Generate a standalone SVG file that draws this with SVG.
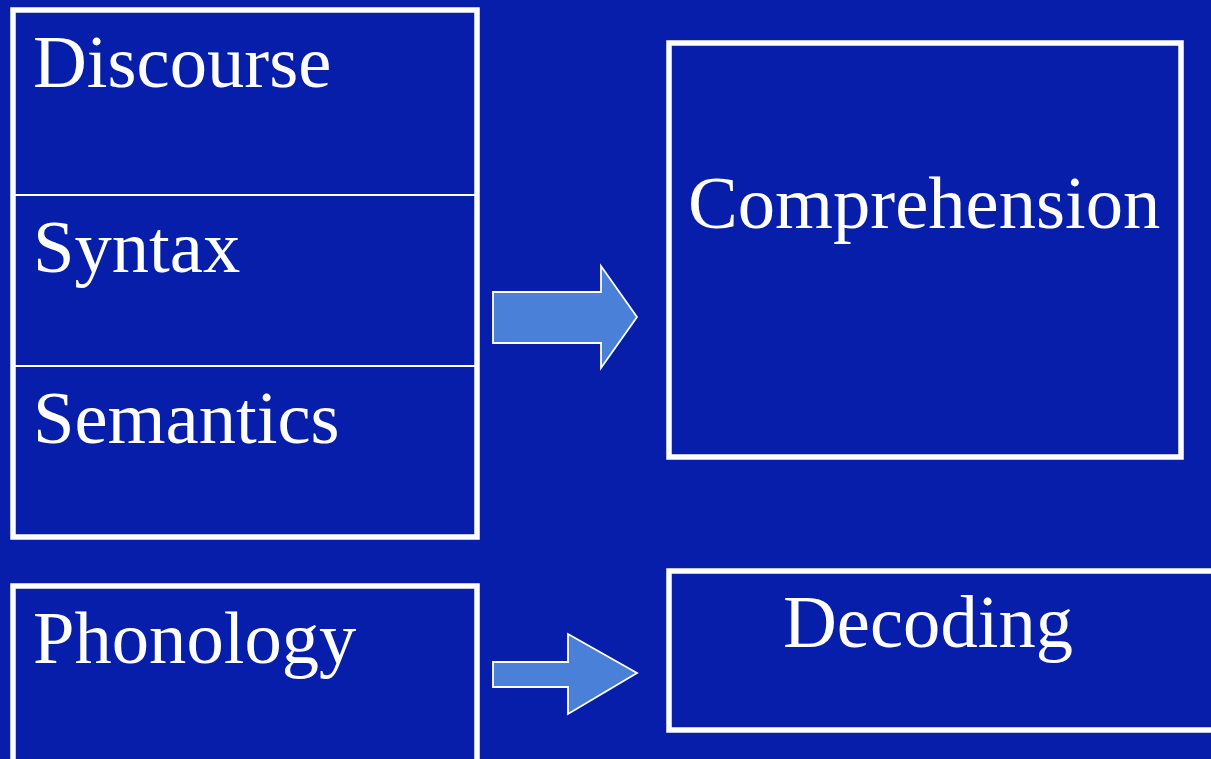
<svg xmlns="http://www.w3.org/2000/svg" width="1211" height="759" viewBox="0 0 1211 759">
<style>
.box{fill:none;stroke:#fff;stroke-width:5.5}
.div{stroke:#fff;stroke-width:2}
.t{font-family:"Liberation Serif","Times New Roman",serif;font-size:74.6px;fill:#fff}
.arr{fill:#4a80d8;stroke:#fff;stroke-width:1.8;stroke-linejoin:miter}
</style>
<rect width="1211" height="759" fill="#071eaa"/>
<g id="language-stack">
<rect class="box" x="13" y="10" width="464" height="527"/>
<line class="div" x1="13" y1="195" x2="477" y2="195"/>
<line class="div" x1="13" y1="366" x2="477" y2="366"/>
<text class="t" x="33" y="87">Discourse</text>
<text class="t" x="33" y="272">Syntax</text>
<text class="t" x="33" y="443">Semantics</text>
</g>
<g id="phonology">
<rect class="box" x="13" y="586" width="464" height="200"/>
<text class="t" x="33" y="663">Phonology</text>
</g>
<g id="comprehension">
<rect class="box" x="669" y="43" width="512" height="414"/>
<text class="t" x="688" y="228">Comprehension</text>
</g>
<g id="decoding">
<rect class="box" x="669" y="571" width="560" height="159"/>
<text class="t" x="783" y="647">Decoding</text>
</g>
<g id="connectors">
<polygon class="arr" points="493,292 601,292 601,266 637,317 601,368 601,343 493,343"/>
<polygon class="arr" points="493,662 568,662 568,634 637,673 568,714 568,687 493,687"/>
</g>
</svg>
